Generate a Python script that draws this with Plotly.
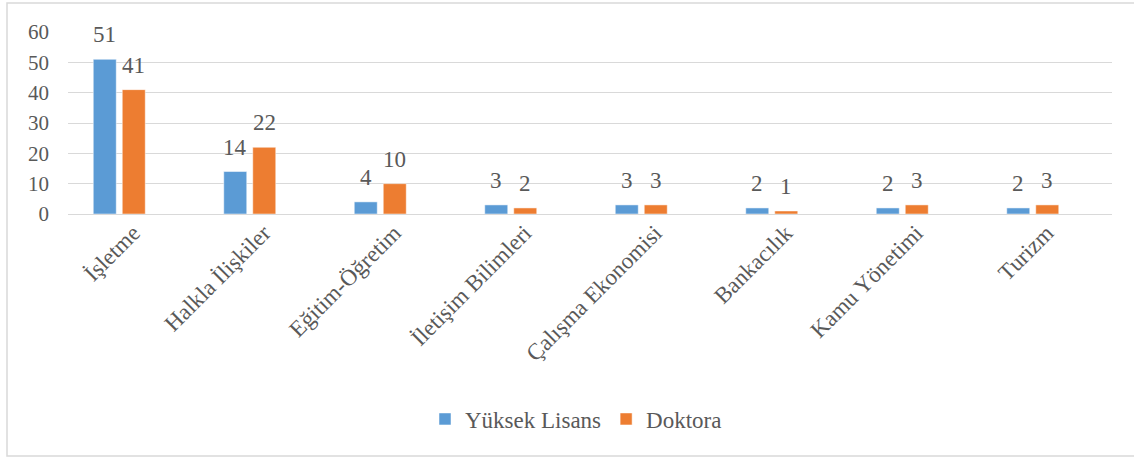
import plotly.graph_objects as go

categories = ["İşletme", "Halkla İlişkiler", "Eğitim-Öğretim", "İletişim Bilimleri",
              "Çalışma Ekonomisi", "Bankacılık", "Kamu Yönetimi", "Turizm"]
yuksek_lisans = [51, 14, 4, 3, 3, 2, 2, 2]
doktora = [41, 22, 10, 2, 3, 1, 3, 3]
y_ticks = [0, 10, 20, 30, 40, 50, 60]

FONT = "Liberation Serif"
TXT = "#595959"
BLUE = "#5B9BD5"
ORANGE = "#ED7D31"

W, H = 1134, 459
L, R, T, B = 68, 22, 32, 245
plot_w = W - L - R
plot_h = H - T - B
cat_px = plot_w / len(categories)
bar_w = 23 / cat_px
off_blue = -40 / cat_px
off_orange = -11 / cat_px

x_idx = list(range(len(categories)))

fig = go.Figure()
fig.add_trace(go.Bar(name="Yüksek Lisans", x=x_idx, y=yuksek_lisans,
                     marker=dict(color=BLUE, line=dict(color="white", width=0.5)),
                     width=bar_w, offset=off_blue))
fig.add_trace(go.Bar(name="Doktora", x=x_idx, y=doktora,
                     marker=dict(color=ORANGE, line=dict(color="white", width=0.5)),
                     width=bar_w, offset=off_orange))

annotations = []
for i in x_idx:
    for vals, off in ((yuksek_lisans, off_blue), (doktora, off_orange)):
        annotations.append(dict(x=i + off + bar_w / 2, y=vals[i], xref="x", yref="y",
                                text=str(vals[i]), showarrow=False, yanchor="bottom",
                                yshift=10, font=dict(family=FONT, size=23, color=TXT)))

fig.update_layout(
    width=W, height=H,
    margin=dict(l=L, r=R, t=T, b=B),
    paper_bgcolor="white", plot_bgcolor="white",
    barmode="overlay",
    font=dict(family=FONT, size=21, color=TXT),
    showlegend=True,
    legend=dict(orientation="h", x=(425 - L) / plot_w, xanchor="left",
                y=(H - B - 419) / plot_h, yanchor="middle",
                font=dict(family=FONT, size=23, color=TXT), itemwidth=30,
                traceorder="normal"),
    annotations=annotations,
    xaxis=dict(tickmode="array", tickvals=x_idx, ticktext=categories,
               range=[-0.5, len(categories) - 0.5], tickangle=-45,
               showgrid=False, zeroline=False, showline=False, ticks="",
               tickfont=dict(family=FONT, size=23, color=TXT)),
    yaxis=dict(range=[0, 60], tickvals=y_ticks, showgrid=True, gridcolor="#D9D9D9",
               gridwidth=1, zeroline=True, zerolinecolor="#D9D9D9", zerolinewidth=1,
               showline=False, ticks="", ticklabelstandoff=18,
               tickfont=dict(family=FONT, size=21, color=TXT)),
    shapes=[dict(type="rect", xref="paper", yref="paper",
                 x0=(7 - L) / plot_w, x1=(W + 20 - L) / plot_w,
                 y0=(H - B - 456) / plot_h, y1=(H - B - 3) / plot_h,
                 line=dict(color="#D9D9D9", width=1.5), layer="below")],
)

fig.write_html("out.html", config={"displayModeBar": False},
               post_script="document.body.style.margin='0';document.body.style.overflow='hidden';")
